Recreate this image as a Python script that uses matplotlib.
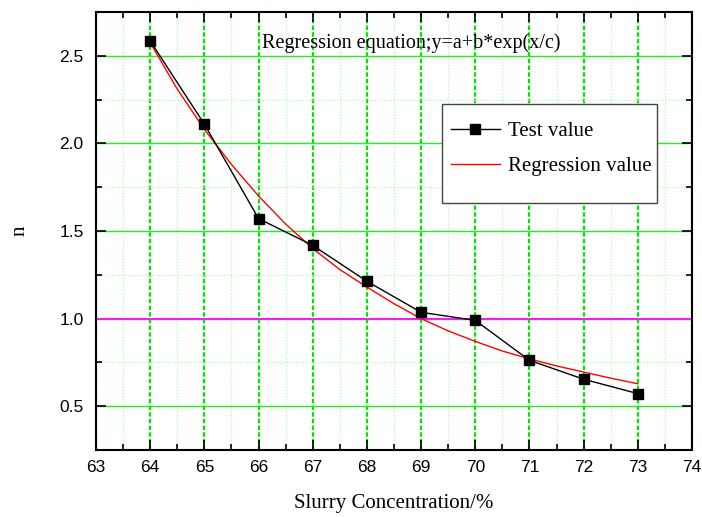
import matplotlib.pyplot as plt
from matplotlib.patches import Rectangle
from matplotlib.ticker import MultipleLocator

# concentration (%) and measured n
conc = [64, 65, 66, 67, 68, 69, 70, 71, 72, 73]
test_n = [2.585, 2.11, 1.571, 1.418, 1.213, 1.036, 0.99, 0.762, 0.654, 0.572]

# regression curve
reg_x = [64, 64.5, 65, 65.5, 66, 66.5, 67, 67.5, 68, 68.5, 69,
         69.5, 70, 70.5, 71, 71.5, 72, 72.5, 73]
reg_n = [2.575, 2.31, 2.08, 1.88, 1.70, 1.54, 1.40, 1.28, 1.18, 1.085, 1.00,
         0.93, 0.87, 0.815, 0.77, 0.73, 0.695, 0.66, 0.628]

serif = "Liberation Serif"
sans = "Liberation Sans"

fig = plt.figure(figsize=(7.02, 5.17), dpi=100)
ax = fig.add_axes([0.1368, 0.1296, 0.849, 0.847])

ax.set_xlim(63, 74)
ax.set_ylim(0.25, 2.75)
ax.xaxis.set_major_locator(MultipleLocator(1))
ax.xaxis.set_minor_locator(MultipleLocator(0.5))
ax.yaxis.set_major_locator(MultipleLocator(0.5))
ax.yaxis.set_minor_locator(MultipleLocator(0.25))

# grid
ax.grid(which="minor", color="#a8ffa8", linestyle=(0, (1, 1.5)), linewidth=0.9)
ax.grid(which="major", axis="x", color="#00e600", linestyle=(0, (2, 1)), linewidth=1.6)
ax.grid(which="major", axis="y", color="#22ee22", linestyle="-", linewidth=1.0)
ax.set_axisbelow(True)

ax.axhline(1.0, color="#ee22ee", linewidth=1.5, zorder=2)

ax.plot(conc, test_n, color="black", linewidth=1.0, marker="s", markersize=7.5,
        label="Test value", zorder=4)
ax.plot(reg_x, reg_n, color="red", linewidth=1.0, label="Regression value", zorder=3)

ax.tick_params(which="both", direction="in", top=True, right=True, width=1.2)
ax.tick_params(which="major", length=7, labelsize=12.5)
ax.tick_params(which="minor", length=4)
for lab in ax.get_xticklabels() + ax.get_yticklabels():
    lab.set_fontfamily(sans)
ax.tick_params(axis="x", pad=7)
ax.tick_params(axis="y", pad=9)
for s in ax.spines.values():
    s.set_linewidth(1.5)

ax.text(0.279, 0.928, "Regression equation;y=a+b*exp(x/c)", transform=ax.transAxes,
        fontfamily=serif, fontsize=14.5, va="center", ha="left")

# legend box drawn separately (taller than the entries, as in the original)
box = Rectangle((0.580, 0.563), 0.361, 0.226, transform=ax.transAxes,
                facecolor="white", edgecolor="#444444", linewidth=1.0, zorder=5)
ax.add_patch(box)
leg = ax.legend(loc="upper left", bbox_to_anchor=(0.585, 0.765), prop={"family": serif, "size": 15},
                frameon=False, handlelength=2.35, handletextpad=0.4, labelspacing=0.75,
                borderaxespad=0, borderpad=0.3)
leg.set_zorder(6)

ax.set_xlabel("Slurry Concentration/%", fontfamily=serif, fontsize=15, labelpad=14)
ax.set_ylabel("n", fontfamily=serif, fontsize=15, labelpad=21)

fig.savefig("out.png", dpi=100)
